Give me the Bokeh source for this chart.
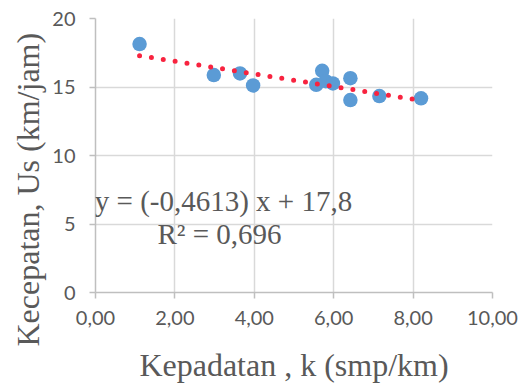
from bokeh.plotting import figure
from bokeh.models import Range1d, FixedTicker, Label, ColumnDataSource, Title
from bokeh.embed import file_html
from bokeh.resources import INLINE

# Data
k = [1.11, 2.98, 3.64, 3.97, 5.56, 5.71, 5.80, 5.98, 6.42, 6.42, 7.15, 8.20]
us = [18.13, 15.87, 15.99, 15.11, 15.16, 16.18, 15.42, 15.26, 15.64, 14.05, 14.34, 14.17]

slope = -0.4613
intercept = 17.8
eq_text = "y = (-0,4613) x + 17,8"
r2_text = "R\u00b2 = 0,696"

x_ticks = [0, 2, 4, 6, 8, 10]
x_tick_labels = ["0,00", "2,00", "4,00", "6,00", "8,00", "10,00"]
y_ticks = [0, 5, 10, 15, 20]
y_tick_labels = ["0", "5", "10", "15", "20"]

x_title = "Kepadatan , k (smp/km)"
y_title = "Kecepatan, Us (km/jam)"

GRAY = "#595959"

p = figure(width=521, height=385, output_backend="svg", toolbar_location=None,
           x_range=Range1d(0, 10), y_range=Range1d(0, 20),
           min_border_left=95, min_border_right=29, min_border_top=18, min_border_bottom=92)
p.outline_line_color = None
p.background_fill_color = "white"
p.border_fill_color = "white"

for ax, ticks, labels in ((p.xaxis[0], x_ticks, x_tick_labels), (p.yaxis[0], y_ticks, y_tick_labels)):
    ax.ticker = FixedTicker(ticks=ticks)
    ax.major_label_overrides = {t: l for t, l in zip(ticks, labels)}
    ax.axis_line_color = "#BFBFBF"
    ax.axis_line_width = 1.5
    ax.major_tick_line_color = "#BFBFBF"
    ax.major_tick_line_width = 1.5
    ax.major_tick_out = 6
    ax.major_tick_in = 0
    ax.minor_tick_line_color = None
    ax.major_label_text_font = "Lato"
    ax.major_label_text_font_size = "20px"
    ax.major_label_text_color = GRAY

p.xaxis.major_label_standoff = 12
p.yaxis.major_label_standoff = 14
p.xaxis.axis_label = x_title
p.xaxis.axis_label_text_font = "Liberation Serif"
p.xaxis.axis_label_text_font_size = "32px"
p.xaxis.axis_label_text_font_style = "normal"
p.xaxis.axis_label_text_color = GRAY
p.xaxis.axis_label_standoff = 19

p.xgrid.grid_line_color = "#D9D9D9"
p.ygrid.grid_line_color = "#D9D9D9"
p.xgrid.grid_line_width = 1.5
p.ygrid.grid_line_width = 1.5

src = ColumnDataSource(dict(k=k, us=us))
p.scatter("k", "us", source=src, size=14.5, fill_color="#5B9BD5", line_color=None)

tx = [min(k), max(k)]
ty = [slope * x + intercept for x in tx]
p.line(tx, ty, line_color="#F8233F", line_width=5, line_dash="0 12", line_cap="round")

p.add_layout(Label(x=223, y=200, x_units="canvas", y_units="canvas", text=eq_text,
                   text_align="center", text_baseline="alphabetic",
                   text_font="Liberation Serif", text_font_size="29px", text_color=GRAY))
p.add_layout(Label(x=219, y=233, x_units="canvas", y_units="canvas", text=r2_text,
                   text_align="center", text_baseline="alphabetic",
                   text_font="Liberation Serif", text_font_size="29px", text_color=GRAY))

yt = Title(text=y_title, align="left", offset=-54, vertical_align="middle",
           text_font="Liberation Serif", text_font_size="32px", text_font_style="normal",
           text_color=GRAY, standoff=6)
p.add_layout(yt, "left")

open("out.html", "w").write(file_html(p, INLINE))
